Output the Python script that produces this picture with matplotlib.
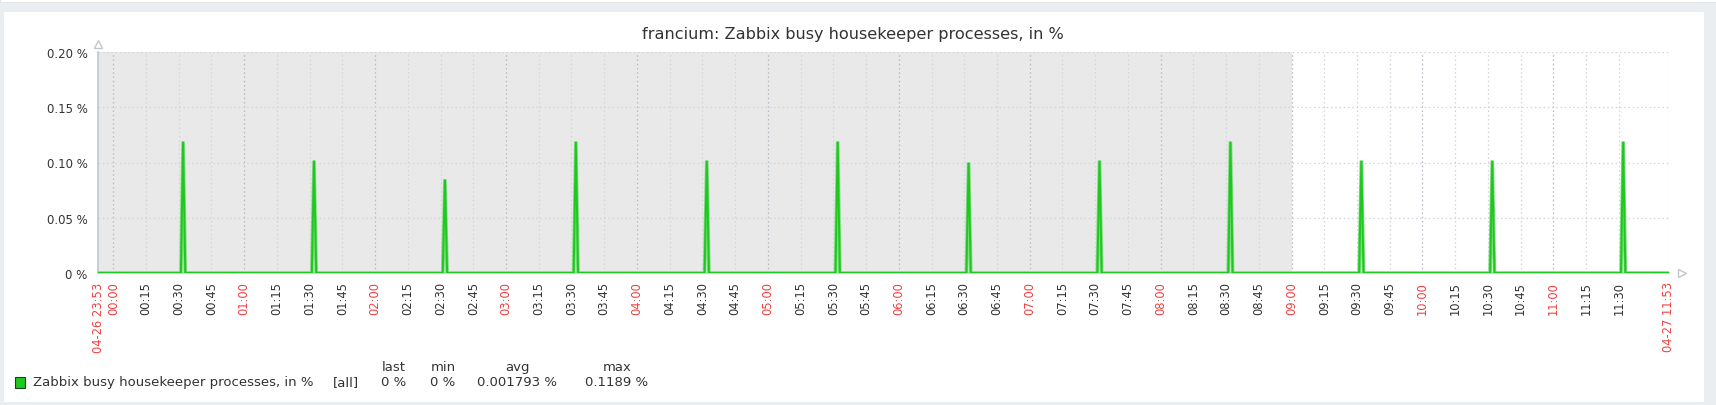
import matplotlib
matplotlib.use("Agg")
import matplotlib.pyplot as plt
from matplotlib.patches import Rectangle
import numpy as np

# ---------------- data ----------------
title = "francium: Zabbix busy housekeeper processes, in %"
series_name = "Zabbix busy housekeeper processes, in %"
start_label = "04-26 23:53"
end_label = "04-27 11:53"
total_minutes = 720                      # 23:53 -> 11:53
spike_times = ["00:32", "01:32", "02:32", "03:32", "04:32", "05:32",
               "06:32", "07:32", "08:32", "09:32", "10:32", "11:32"]
spike_values = [0.1189, 0.1017, 0.0847, 0.1189, 0.1017, 0.1189,
                0.0999, 0.1017, 0.1189, 0.1017, 0.1017, 0.1189]
tick_labels = ["00:00", "00:15", "00:30", "00:45", "01:00", "01:15", "01:30", "01:45",
               "02:00", "02:15", "02:30", "02:45", "03:00", "03:15", "03:30", "03:45",
               "04:00", "04:15", "04:30", "04:45", "05:00", "05:15", "05:30", "05:45",
               "06:00", "06:15", "06:30", "06:45", "07:00", "07:15", "07:30", "07:45",
               "08:00", "08:15", "08:30", "08:45", "09:00", "09:15", "09:30", "09:45",
               "10:00", "10:15", "10:30", "10:45", "11:00", "11:15", "11:30"]
y_ticks = [0, 0.05, 0.10, 0.15, 0.20]
y_tick_labels = ["0 %", "0.05 %", "0.10 %", "0.15 %", "0.20 %"]
worktime_start = "09:00"
legend_headers = ["last", "min", "avg", "max"]
legend_values = ["0 %", "0 %", "0.001793 %", "0.1189 %"]

# ---------------- helpers ----------------
def to_min(hhmm):
    h, m = map(int, hhmm.split(":"))
    t = h * 60 + m - (23 * 60 + 53)
    if t < 0:
        t += 24 * 60
    return t

minutes = np.arange(total_minutes + 1)
values = np.zeros(total_minutes + 1)
for t, v in zip(spike_times, spike_values):
    values[to_min(t)] = v

W, H = 1716, 406
fig = plt.figure(figsize=(W / 100, H / 100), dpi=100)
fig.patch.set_facecolor("#ebeef0")
# white panel
fig.patches.append(Rectangle((4 / W, 1 - 403 / H), 1700 / W, (403 - 13) / H,
                             transform=fig.transFigure, facecolor="white",
                             edgecolor="none", zorder=-2))
fig.patches.append(Rectangle((0, 1 - 2.5 / H), 1, 2.5 / H,
                             transform=fig.transFigure, facecolor="white",
                             edgecolor="#dde1e5", lw=0.6, zorder=-2))

L, R, T, B = 98, 1669, 53, 274
ax = fig.add_axes([L / W, 1 - B / H, (R - L) / W, (B - T) / H])
ax.set_zorder(3)
ax.set_facecolor("white")
ax.set_xlim(0, total_minutes)
ax.set_ylim(0, 0.20)
for s in ax.spines.values():
    s.set_visible(False)

# non-working time shading
ax.axvspan(0, to_min(worktime_start), color="#e9e9e9", zorder=0, lw=0)

# grid
dots = (0, (1.2, 2.2))
tick_pos = [to_min(t) for t in tick_labels]
for p, lab in zip(tick_pos, tick_labels):
    hour = lab.endswith(":00")
    ax.axvline(p, color="#b3bcc5" if hour else "#cfd5db", lw=0.9, ls=dots, zorder=1)
ax.axvline(total_minutes, color="#cfd5db", lw=0.9, ls=dots, zorder=1)
for yv in y_ticks[1:]:
    ax.axhline(yv, color="#cfd5db", lw=0.9, ls=dots, zorder=1)

# axes lines with arrows
ax.plot([0, 0], [0, 0.20], color="#bfc7cf", lw=1.2, clip_on=False, zorder=3)
ax.plot([0, total_minutes], [0, 0], color="#bfc7cf", lw=1.2, clip_on=False, zorder=3)
ax.plot([0], [0.2075], marker="^", ms=6, mfc="white", mec="#bfc7cf", mew=1.0,
        clip_on=False, zorder=4)
ax.plot([total_minutes + 6], [0], marker=">", ms=6, mfc="white", mec="#bfc7cf",
        mew=1.0, clip_on=False, zorder=4)

# data line
ax.plot(minutes, values, color="#7ddc7d", lw=2.6, zorder=5, solid_joinstyle="miter")
ax.plot(minutes, values, color="#1ec81e", lw=1.4, zorder=6, solid_joinstyle="miter")

# ticks
all_pos = [0] + tick_pos + [total_minutes]
all_labels = [start_label] + tick_labels + [end_label]
ax.set_xticks(all_pos)
ax.set_xticklabels(all_labels, rotation=90, fontsize=8.3)
ax.tick_params(axis="x", length=0, pad=6)
red = "#f04040"
for lab, txt in zip(ax.get_xticklabels(), all_labels):
    if txt.endswith(":00") or txt in (start_label, end_label):
        lab.set_color(red)
    else:
        lab.set_color("#333333")
ax.set_yticks(y_ticks)
ax.set_yticklabels(y_tick_labels, fontsize=8.5, color="#333333")
ax.tick_params(axis="y", length=0, pad=7.5)

# title
fig.text(853 / W, 1 - 35 / H, title, ha="center", va="center", fontsize=11.6,
         color="#333333")

# legend
fig.patches.append(Rectangle((15 / W, 1 - 389 / H), 10 / W, 11 / H,
                             transform=fig.transFigure, facecolor="#1ec81e",
                             edgecolor="#1f3d1f", lw=0.8, zorder=5))
ly = 1 - 383 / H
hy = 1 - 368 / H
fs = 9.5
fig.text(33 / W, ly, series_name, ha="left", va="center", fontsize=fs, color="#333333")
fig.text(346 / W, ly, "[all]", ha="center", va="center", fontsize=fs, color="#333333")
centers = [394, 443, 517, 617]
for cx, hdr, val in zip(centers, legend_headers, legend_values):
    fig.text(cx / W, hy, hdr, ha="center", va="center", fontsize=fs, color="#333333")
    fig.text(cx / W, ly, val, ha="center", va="center", fontsize=fs, color="#333333")

fig.savefig("out.png", dpi=100, facecolor=fig.get_facecolor())
